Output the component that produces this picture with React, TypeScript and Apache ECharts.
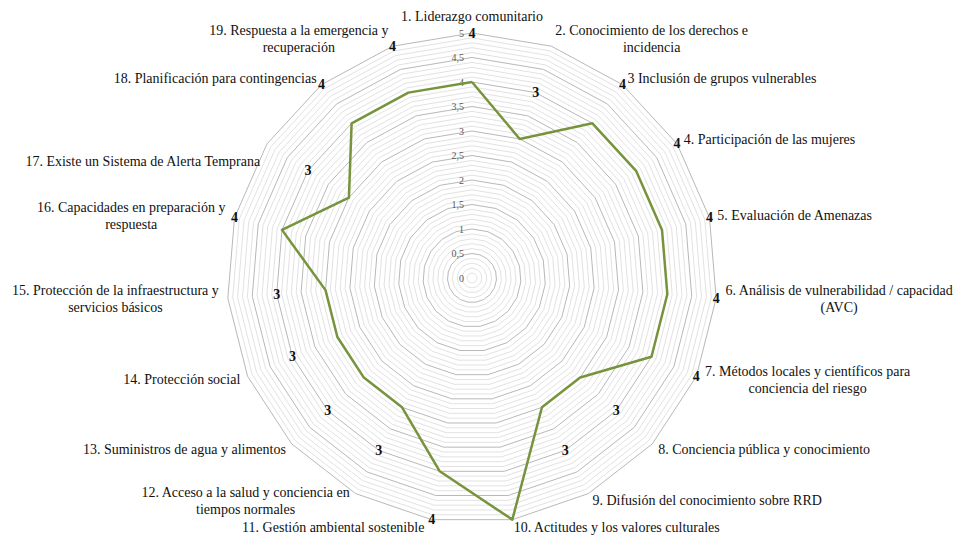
import React, { useEffect, useRef } from 'react';
import * as echarts from 'echarts';

const CATEGORIES = [
  '1. Liderazgo comunitario',
  '2. Conocimiento de los derechos e\nincidencia',
  '3 Inclusión de grupos vulnerables',
  '4. Participación de las mujeres',
  '5. Evaluación de Amenazas',
  '6. Análisis de vulnerabilidad / capacidad\n(AVC)',
  '7. Métodos locales y científicos para\nconciencia del riesgo',
  '8. Conciencia pública y conocimiento',
  '9. Difusión del conocimiento sobre RRD',
  '10. Actitudes y los valores culturales',
  '11. Gestión ambiental sostenible',
  '12. Acceso a la salud y conciencia en\ntiempos normales',
  '13. Suministros de agua y alimentos',
  '14. Protección social',
  '15. Protección de la infraestructura y\nservicios básicos',
  '16. Capacidades en preparación y\nrespuesta',
  '17. Existe un Sistema de Alerta Temprana',
  '18. Planificación para contingencias',
  '19. Respuesta a la emergencia y\nrecuperación',
];

const SCORES = [4, 3, 4, 4, 4, 4, 4, 3, 3, 5, 4, 3, 3, 3, 3, 4, 3, 4, 4];

const SCALE_MIN = 0;
const SCALE_MAX = 5;
const SCALE_LABEL_STEP = 0.5;
const SCALE_MINOR_SPLITS = 50;

const FONT = "'Liberation Serif', 'Times New Roman', serif";
const NAME_SIZE = 14;

// small layout nudges for a few indicator names (by category position)
const NAME_PADDING: Record<number, number[]> = {
  10: [0, 6, 0, 0],
  16: [44, 0, 0, 0],
};

function measure(text: string): number {
  const ctx = document.createElement('canvas').getContext('2d');
  if (!ctx) return text.length * 7;
  ctx.font = `${NAME_SIZE}px ${FONT}`;
  return ctx.measureText(text).width;
}

export default function App() {
  const ref = useRef<HTMLDivElement>(null);

  useEffect(() => {
    if (!ref.current) return;
    const chart = echarts.init(ref.current, null, { renderer: 'svg' });
    const n = CATEGORIES.length;
    // ECharts lays indicators counter-clockwise; reorder to get clockwise 1..19
    const order = [0, ...Array.from({ length: n - 1 }, (_, k) => n - 1 - k)];
    const names = order.map((i) => CATEGORIES[i]);
    const vals = order.map((i) => SCORES[i]);

    const rich: Record<string, any> = {};
    names.forEach((nm, i) => {
      const lines = nm.split('\n');
      const orig = order[i];
      const style: any = {
        fontFamily: FONT,
        fontSize: NAME_SIZE,
        color: '#111',
        lineHeight: 17,
      };
      if (lines.length > 1) {
        style.width = Math.ceil(Math.max(...lines.map(measure))) + 2;
        style.align = 'center';
      }
      if (NAME_PADDING[orig]) style.padding = NAME_PADDING[orig];
      rich['n' + i] = style;
    });

    const splitColors = ['#b8b8b8', '#e2e2e2', '#e2e2e2', '#e2e2e2', '#e2e2e2'];

    chart.setOption({
      animation: false,
      backgroundColor: '#ffffff',
      textStyle: { fontFamily: FONT },
      radar: {
        center: [472, 278],
        radius: 245,
        startAngle: 90,
        shape: 'polygon',
        splitNumber: SCALE_MINOR_SPLITS,
        nameGap: 8,
        indicator: names.map((name, i) => ({
          name,
          min: SCALE_MIN,
          max: SCALE_MAX,
          ...(i === 0 ? { axisLabel: { show: true } } : {}),
        })),
        axisName: {
          color: '#111',
          fontFamily: FONT,
          fontSize: NAME_SIZE,
          lineHeight: 17,
          rich,
          formatter: (name: string) => {
            const i = names.indexOf(name);
            return name
              .split('\n')
              .map((l) => `{n${i}|${l}}`)
              .join('\n');
          },
        },
        axisLine: { show: false },
        axisTick: { show: false },
        axisLabel: {
          show: false,
          fontSize: 10,
          color: '#595959',
          fontFamily: FONT,
          margin: 8,
          formatter: (v: number) => {
            const k = v / SCALE_LABEL_STEP;
            if (Math.abs(k - Math.round(k)) > 1e-6) return '';
            return String(Math.round(v * 10) / 10).replace('.', ',');
          },
        },
        splitLine: { lineStyle: { color: splitColors, width: 1 } },
        splitArea: { show: false },
      },
      series: [
        {
          type: 'radar',
          symbol: 'none',
          z: 3,
          lineStyle: { color: '#77933C', width: 2.5 },
          data: [{ value: vals, name: 'Puntaje' }],
        },
        {
          type: 'radar',
          symbol: 'circle',
          symbolSize: 1,
          silent: true,
          z: 4,
          itemStyle: { color: 'rgba(0,0,0,0)' },
          lineStyle: { width: 0, opacity: 0 },
          label: {
            show: true,
            position: 'inside',
            color: '#111',
            fontFamily: FONT,
            fontSize: 14,
            fontWeight: 'bold',
            formatter: (p: any) => {
              const d = p.dimensionIndex;
              const v = d != null ? vals[d] : p.value - 1;
              return v + 1 <= SCALE_MAX ? String(v) : '';
            },
          },
          data: [{ value: vals.map((v) => v + 1), name: 'Etiquetas' }],
        },
      ],
    });
    return () => chart.dispose();
  }, []);

  return (
    <div
      ref={ref}
      style={{ position: 'absolute', left: 0, top: 0, width: 956, height: 539 }}
    />
  );
}
